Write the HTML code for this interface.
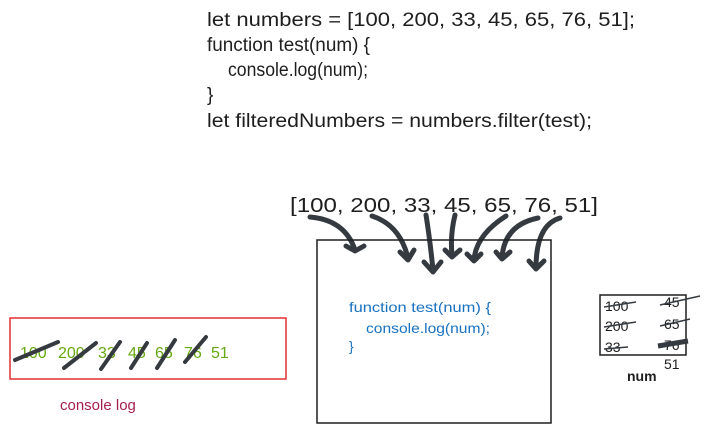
<!DOCTYPE html>
<html><head><meta charset="utf-8"><style>
html,body{margin:0;padding:0;background:#fff;}
svg{display:block;}
text{font-family:"Liberation Sans",sans-serif;}
</style></head><body>
<svg width="710" height="433" viewBox="0 0 710 433">
<g fill="#1e1e1e" font-size="19">
<text x="207" y="26" textLength="428" lengthAdjust="spacingAndGlyphs">let numbers = [100, 200, 33, 45, 65, 76, 51];</text>
<text x="207" y="51" textLength="163" lengthAdjust="spacingAndGlyphs">function test(num) {</text>
<text x="228" y="76" textLength="140" lengthAdjust="spacingAndGlyphs">console.log(num);</text>
<text x="207" y="101">}</text>
<text x="207" y="127" textLength="385" lengthAdjust="spacingAndGlyphs">let filteredNumbers = numbers.filter(test);</text>
</g>
<text x="290" y="212" font-size="20" fill="#1e1e1e" textLength="308" lengthAdjust="spacingAndGlyphs">[100, 200, 33, 45, 65, 76, 51]</text>
<g fill="none" stroke="#343a40" stroke-width="5" stroke-linecap="round" stroke-linejoin="round">
<path d="M310 217 Q345 220 355 250"/><path d="M346 246 L355 251 L364 246"/>
<path d="M372 216 Q400 225 408 258"/><path d="M400 252 L408 260 L414 250"/>
<path d="M426 215 Q430 240 433 270"/><path d="M424 262 L433 272 L441 262"/>
<path d="M455 215 Q450 235 452 255"/><path d="M445 250 L452 257 L460 250"/>
<path d="M506 216 Q476 235 474 260"/><path d="M467 254 L474 261 L481 254"/>
<path d="M538 218 Q504 225 502 258"/><path d="M496 252 L502 259 L510 252"/>
<path d="M560 218 Q536 225 536 268"/><path d="M529 261 L536 269 L544 261"/>
</g>
<rect x="317" y="240" width="234" height="183" fill="none" stroke="#1e1e1e" stroke-width="1.5"/>
<g fill="#1971c2" font-size="14">
<text x="349" y="312" textLength="142" lengthAdjust="spacingAndGlyphs">function test(num) {</text>
<text x="366" y="333" textLength="124" lengthAdjust="spacingAndGlyphs">console.log(num);</text>
<text x="349" y="351">}</text>
</g>
<rect x="10" y="318" width="276" height="61" fill="none" stroke="#e03131" stroke-width="1.5"/>
<g fill="#66a80f" font-size="16">
<text x="20" y="358">100</text><text x="58" y="358">200</text><text x="98" y="358">33</text>
<text x="128" y="358">45</text><text x="155" y="358">65</text><text x="184" y="358">76</text><text x="211" y="358">51</text>
</g>
<g stroke="#343a40" stroke-width="4" stroke-linecap="round">
<line x1="15" y1="360" x2="58" y2="342"/><line x1="64" y1="368" x2="96" y2="343"/>
<line x1="101" y1="369" x2="120" y2="342"/><line x1="131" y1="368" x2="147" y2="343"/>
<line x1="157" y1="368" x2="175" y2="340"/><line x1="185" y1="362" x2="206" y2="337"/>
</g>
<text x="60" y="410" font-size="15" fill="#a61e4d">console log</text>
<rect x="600" y="295" width="86" height="60" fill="none" stroke="#1e1e1e" stroke-width="1.5"/>
<g fill="#1e1e1e" font-size="14">
<text x="605" y="311">100</text><text x="605" y="331">200</text><text x="605" y="352">33</text>
<text x="664" y="307">45</text><text x="664" y="329">65</text><text x="664" y="350">76</text>
<text x="664" y="369">51</text>
</g>
<g stroke="#343a40" stroke-width="1.5">
<line x1="604" y1="307" x2="636" y2="302"/><line x1="604" y1="327" x2="636" y2="322"/>
<line x1="604" y1="349" x2="628" y2="347"/><line x1="660" y1="305" x2="700" y2="296"/>
<line x1="660" y1="326" x2="690" y2="319"/><line x1="658" y1="346" x2="688" y2="341" stroke-width="5"/>
</g>
<text x="627" y="381" font-size="14" font-weight="bold" fill="#1e1e1e">num</text>
</svg>
</body></html>
